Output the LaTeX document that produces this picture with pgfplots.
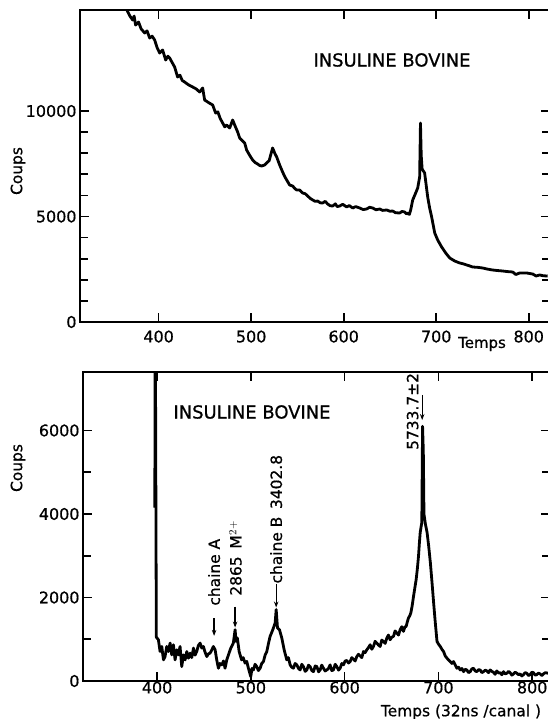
\documentclass[border=0pt]{standalone}
\usepackage{fontspec}
\setmainfont{DejaVu Sans}[FakeBold=0.7]
\usepackage{pgfplots}
\usepackage{pgfplotstable}
\usetikzlibrary{arrows.meta}
\pgfplotsset{compat=1.18}

% upper spectrum (counts vs channel)
\pgfplotstableread{
ch c
362 15200
366.5 14710
369 14500
371.9 14315
373.5 14500
375.1 14078
378.3 14220
381 13900
384.9 13699
387.5 13800
390.3 13462
393 13550
395.7 13367
398.4 13000
401.1 12751
404.3 12893
407.6 12419
410 12600
411.9 12514
414.6 12300
417.3 12087
420.5 11613
423 11700
425.5 11450
428.1 11376
432 11250
436.8 11139
440.5 11050
444.3 10902
447.6 11092
449.7 10523
454 10400
458.4 10286
461.6 9907
464 9960
466.5 9650
469.2 9433
471.4 9250
473.5 9338
476.8 9196
478.5 9400
480.0 9575
482.2 9338
485.4 9006
487.6 8722
490.3 8600
493.0 8485
495.1 8153
498.4 7900
501.6 7679
504.3 7560
507 7489
509.2 7420
511.3 7394
514.6 7442
517.8 7584
519.5 7650
521.1 7916
523.2 8248
525.4 8011
527.6 7821
530.8 7442
534.0 7110
536.2 6900
538.4 6731
541.6 6494
544.9 6446
547.1 6330
549.2 6257
552.4 6257
554 6180
555.7 6115
558.4 6080
561.1 5972
563.8 5860
566.5 5783
569.2 5720
571.9 5735
574.6 5650
577.3 5641
580 5720
582.7 5593
585.4 5510
588.1 5498
591 5600
593 5470
595.7 5498
599 5580
603.2 5451
606 5520
609.7 5404
613 5470
617.3 5404
621 5330
624.8 5356
628 5440
631.3 5404
635 5320
638.9 5356
642 5290
646.5 5309
650 5250
653.0 5261
656 5180
660.5 5167
663 5240
665.9 5214
668 5120
669.2 5167
671 5100
672.4 5309
674.6 5783
677.8 6115
680.0 6352
682.1 6873
683.0 9430
683.8 7900
684.8 7250
687.5 7063
690.8 5925
692.9 5404
695.1 4977
698.4 4219
701.6 3887
705.9 3555
710.3 3271
714.6 3034
720.0 2891
725.4 2797
729 2760
733.0 2702
736 2660
739.4 2607
745 2590
750.2 2560
755 2510
761.0 2465
766 2440
771.8 2417
777 2390
782.7 2370
786 2250
790.2 2323
797.8 2323
804.3 2275
808 2180
811.8 2228
816 2190
820.5 2180
}\topdata

% lower spectrum (counts vs channel)
\pgfplotstableread{
ch c
397.6 4150
398 9500
399.2 1050
401.4 988
403.2 706
405 827
406.8 506
408.5 586
410.3 827
412 706
413.9 908
415.6 626
417.4 868
419.2 506
421 747
422.7 626
424.5 827
426.3 345
428.1 626
429.9 506
431.7 706
433.4 547
435.2 667
437 560
438.8 788
440.5 620
442.3 706
444 850
445.9 908
447.7 788
449.4 827
451 700
453 586
454.8 650
456.5 667
458.3 740
460 827
461.9 747
463.6 506
465.4 306
467 420
469 386
470.8 480
472.5 306
474.3 506
476.1 626
478.6 788
481.3 908
483.2 1229
484.2 947
485.6 1029
487.5 706
490.1 506
491.8 560
493.9 427
495.6 470
497.4 306
499.9 104
501.2 300
502.7 265
504.5 400
506.3 345
508 250
509.9 306
511.6 420
513.4 465
515.2 620
517 706
518.8 900
520.5 1068
522 1150
523.4 1229
525.9 1390
527 1711
528.4 1270
530.5 1229
533 1029
535.5 747
538.3 506
540 560
541.9 386
543.6 330
545.4 306
547.2 420
549 386
550.8 300
552.5 265
554.3 400
556.1 345
557.9 230
559.7 265
561.5 380
563.2 345
565 250
566.8 224
568.6 360
570.4 345
572.2 220
573.9 265
575.6 380
577.4 306
579.2 240
581 265
582.8 300
584.5 386
586.3 250
588.1 265
589.9 400
591.7 345
593.5 260
595.2 306
597 420
598.8 386
600.5 480
602.3 490
604.1 430
605.9 465
607.6 560
609.4 523
611.2 480
613 586
614.8 640
616.5 602
618.3 560
620.1 706
621.9 680
623.6 747
625.4 800
627.2 868
629 760
630.7 827
632.5 950
634.3 908
636.1 860
637.9 827
639.6 980
641.4 947
643.2 900
645 1029
646.7 1100
648.5 988
650.3 1050
652.1 1068
653.8 1200
655.6 1149
657.4 1100
659.2 1229
661 1300
662.7 1188
664.2 1290
665.6 1309
666.9 1420
668.1 1511
669.4 1560
670.6 1632
672 1800
673.5 2032
675 2250
676.3 2434
677.6 2700
678.8 2996
679.7 3300
680.6 3560
682.3 3800
683.1 6100
683.9 5500
684.6 4000
686.1 3760
687.9 3560
689.6 3237
691.4 2837
693.2 2355
694.9 1873
696.7 1390
698.5 947
700.2 880
702 827
703.7 760
705.5 706
707.3 600
709.1 547
710.9 500
712.6 465
714.4 420
716.2 465
718 380
719.7 306
721.5 330
723.2 265
725 300
726.8 224
728.5 280
730.3 265
732.1 200
733.9 224
735.6 290
737.4 306
739.2 240
741 224
742.7 270
744.5 265
746.3 200
748.1 224
749.9 260
751.6 241
753.4 200
755.2 265
757 230
758.7 210
760.5 160
762.3 241
764.1 190
765.9 200
767.6 150
769.4 224
771.2 170
773 186
774.8 230
776.5 200
778.3 140
780.1 169
781.9 210
783.6 186
785.4 150
787.2 169
789 120
790.7 153
792.5 200
794.3 186
796 130
797.8 153
799.6 210
801.4 200
803.1 140
804.9 153
806.7 190
808.5 169
810.3 130
812 169
814 200
817 186
}\botdata

\pgfplotsset{
  spectre/.style={
    scale only axis, anchor=south west,
    axis line style={line width=1.7bp},
    every tick/.style={black, line width=1.7bp},
    tick align=inside,
    major tick length=9bp, minor tick length=8bp,
    xtick={400,500,600,700,800},
    scaled y ticks=false,
    tick label style={font=\fontsize{16}{16}\selectfont},
    /pgf/number format/assume math mode=true,
    /pgf/number format/1000 sep={},
  },
  trace/.style={black, line width=2.8bp, line join=round},
}

\begin{document}
\begin{tikzpicture}
\useasboundingbox (0,0) rectangle (548bp,719bp);

\begin{axis}[spectre, at={(80bp,397bp)}, width=470bp, height=312bp,
    xmin=315, xmax=823, ymin=0, ymax=14790,
    ytick={0,5000,10000}, minor y tick num=4,
    xticklabel style={yshift=-5bp}]
\addplot[trace] table {\topdata};
\end{axis}

\begin{axis}[spectre, at={(83bp,38bp)}, width=467bp, height=309bp,
    xmin=321, xmax=819, ymin=0, ymax=7400,
    ytick={0,2000,4000,6000}, minor y tick num=1,
    xticklabel style={yshift=3bp}]
\addplot[trace] table {\botdata};
\begin{scope}[font=\fontsize{15.5}{15.5}\selectfont]
\draw[-{Stealth[length=6bp,width=4.5bp]}, line width=1.3bp] (axis cs:460.8,1500) -- (axis cs:460.8,1080);
\node[rotate=90, anchor=west, inner sep=0pt] at (axis cs:460.8,1800) {chaine A};
\draw[-{Stealth[length=6bp,width=4.5bp]}, line width=1.3bp] (axis cs:483.2,1780) -- (axis cs:483.2,1280);
\node[rotate=90, anchor=west, inner sep=0pt] at (axis cs:483.6,2040) {2865\enspace M$^{2+}$};
\draw[-{Stealth[length=6bp,width=4.5bp]}, line width=1.3bp] (axis cs:527,2330) -- (axis cs:527,1760);
\node[rotate=90, anchor=west, inner sep=0pt] at (axis cs:527,2330) {chaine B\enspace 3402.8};
\draw[-{Stealth[length=6bp,width=4.5bp]}, line width=1.3bp] (axis cs:682.7,6850) -- (axis cs:682.7,6250);
\node[rotate=90, anchor=east, inner sep=0pt] at (axis cs:672.5,7380) {5733.7±2};
\end{scope}
\end{axis}

\node[font=\fontsize{18}{18}\selectfont] at (392bp,659bp) {INSULINE BOVINE};
\node[font=\fontsize{18}{18}\selectfont] at (252bp,307bp) {INSULINE BOVINE};
\node[rotate=90, font=\fontsize{15.5}{15.5}\selectfont] at (18bp,548bp) {Coups};
\node[rotate=90, font=\fontsize{15.5}{15.5}\selectfont] at (18bp,251bp) {Coups};
\node[font=\fontsize{15}{15}\selectfont] at (482bp,375bp) {Temps};
\node[font=\fontsize{15.5}{15.5}\selectfont] at (461bp,7bp) {Temps (32ns /canal )};
\end{tikzpicture}
\end{document}
